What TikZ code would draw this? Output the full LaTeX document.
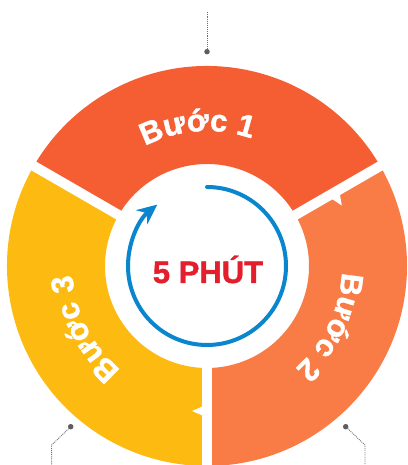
\documentclass[tikz,border=0pt]{standalone}
\usepackage{fontspec}
\setmainfont{Liberation Sans}[BoldFeatures={FakeBold=1.3}]
\usetikzlibrary{arrows.meta,decorations.text}

\definecolor{stepone}{HTML}{F55E32}
\definecolor{steptwo}{HTML}{F97B45}
\definecolor{stepthree}{HTML}{FDBA10}
\definecolor{cycleblue}{HTML}{0A86CE}
\definecolor{timered}{HTML}{E31E2D}
\definecolor{leadgray}{HTML}{6E6E6E}

\newcommand{\stepfmt}{\bfseries\fontsize{31}{32}\selectfont\color{white}}

\begin{document}
\begin{tikzpicture}[x=1pt, y=1pt]
    % Define the styles for the ring and the leaders
    \tikzstyle{gap} = [draw=white, line width=10pt]
    \tikzstyle{notch} = [fill=white]
    \tikzstyle{leader} = [draw=leadgray, densely dotted, line width=0.9pt]
    \tikzstyle{leaddot} = [circle, fill=leadgray!85!black, inner sep=0pt, minimum size=5.5pt]

    \useasboundingbox (-207,-199) rectangle (200,266);

    % The three steps of the ring
    \fill[stepone] (30:200) arc[start angle=30, end angle=150, radius=200]
        -- (150:102) arc[start angle=150, end angle=30, radius=102] -- cycle;
    \fill[steptwo] (-90:200) arc[start angle=-90, end angle=30, radius=200]
        -- (30:102) arc[start angle=30, end angle=-90, radius=102] -- cycle;
    \fill[stepthree] (150:200) arc[start angle=150, end angle=270, radius=200]
        -- (270:102) arc[start angle=270, end angle=150, radius=102] -- cycle;

    % White gaps between the steps, with the small notches
    \draw[gap] (30:95) -- (30:205);
    \draw[gap] (150:95) -- (150:205);
    \draw[gap] (270:95) -- (270:205);
    \fill[notch, rotate=30] (139.5,0) -- (152.5,0) -- (147,-15) -- cycle;
    \fill[notch, rotate=270] (138.5,0) -- (151.5,0) -- (145,-15) -- cycle;

    % Labels along the ring
    \path[decorate, decoration={text along path, text align=center,
        text={|\stepfmt|Bước 1}}]
        (152:135) arc[start angle=152, end angle=36, radius=135];
    \path[decorate, decoration={text along path, text align=center,
        text={|\stepfmt|Bước 2}}]
        (32:135) arc[start angle=32, end angle=-84, radius=135];
    \path[decorate, decoration={text along path, text align=center,
        text={|\stepfmt|Bước 3}}]
        (265:135) arc[start angle=265, end angle=149, radius=135];

    % The cycle arrow and the time in the middle
    \draw[cycleblue, line width=4pt, line cap=round,
        -{Stealth[length=20pt, width=18pt]}]
        (90:79) arc[start angle=90, end angle=-231, radius=79];
    \node[anchor=base, text=timered, font=\bfseries\fontsize{31}{32}\selectfont]
        (time) at (1,-17) {5 PHÚT};

    % Leaders to the notes
    \node[leaddot] (dot1) at (0,214.3) {};
    \coordinate (end1) at (0,254);
    \draw[leader] (dot1) -- (end1);

    \node[leaddot] (dot2) at (138.7,-160.7) {};
    \coordinate (bend2) at (158,-179);
    \coordinate (end2) at (158,-199);
    \draw[leader] (dot2) -- (bend2) -- (end2);

    \node[leaddot] (dot3) at (-136.3,-160.7) {};
    \coordinate (bend3) at (-155.3,-179);
    \coordinate (end3) at (-155.3,-199);
    \draw[leader] (dot3) -- (bend3) -- (end3);
\end{tikzpicture}
\end{document}
